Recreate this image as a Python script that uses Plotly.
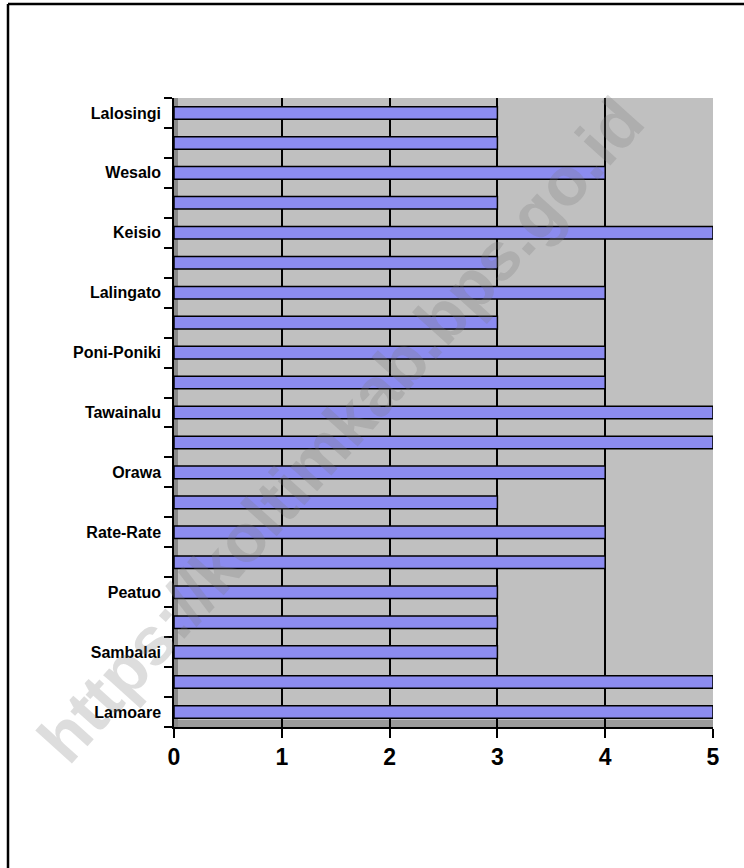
import plotly.graph_objects as go

# Categories from bottom to top; unlabeled rows have an empty label
labels = ["Lamoare", "", "Sambalai", "", "Peatuo", "", "Rate-Rate", "", "Orawa", "",
          "Tawainalu", "", "Poni-Poniki", "", "Lalingato", "", "Keisio", "", "Wesalo", "",
          "Lalosingi"]
values = [5, 5, 3, 3, 3, 4, 4, 3, 4, 5, 5, 4, 4, 3, 4, 3, 5, 3, 4, 3, 3]
x_ticks = [0, 1, 2, 3, 4, 5]

positions = list(range(len(values)))
shown_pos = [p for p, l in zip(positions, labels) if l]
shown_lab = [l for l in labels if l]

fig = go.Figure()
fig.add_trace(go.Bar(
    x=values, y=positions, orientation="h", width=0.42,
    marker=dict(color="#8c8cf0", line=dict(color="black", width=1.5)),
    hoverinfo="x+y", showlegend=False,
))

W, H = 744, 868
ml, mr, mt, mb = 174, 31, 98, 141
pw, ph = W - ml - mr, H - mt - mb

def px(xp):
    return (xp - ml) / pw

def py(yp):
    return 1 - (yp - mt) / ph

shapes = [
    # outer frame (left and top visible)
    dict(type="line", xref="paper", yref="paper", x0=px(8), x1=px(8), y0=py(900), y1=py(4),
         line=dict(color="black", width=2.5)),
    dict(type="line", xref="paper", yref="paper", x0=px(8), x1=px(760), y0=py(4), y1=py(4),
         line=dict(color="black", width=2.5)),
    # 3D floor and side wall
    dict(type="rect", xref="paper", yref="paper", x0=0, x1=1, y0=0, y1=py(720),
         fillcolor="#9a9a9a", line=dict(width=0), layer="below"),
    dict(type="rect", xref="paper", yref="paper", x0=0, x1=px(178), y0=0, y1=1,
         fillcolor="#8a8a8a", line=dict(width=0), layer="below"),
]

fig.update_layout(
    width=W, height=H,
    margin=dict(l=ml, r=mr, t=mt, b=mb),
    paper_bgcolor="white", plot_bgcolor="#c0c0c0",
    font=dict(family="Arial, Liberation Sans, sans-serif", color="black"),
    bargap=0.58,
    shapes=shapes,
    xaxis=dict(
        range=[0, 5.0], tickvals=x_ticks, ticktext=[str(t) for t in x_ticks],
        ticks="outside", ticklen=9, tickwidth=1.5, tickcolor="black",
        tickfont=dict(size=23, weight="bold"),
        showgrid=True, gridcolor="black", gridwidth=1.5,
        showline=True, linecolor="black", linewidth=1.5,
        zeroline=False, fixedrange=True,
    ),
    yaxis=dict(
        range=[-0.5, len(values) - 0.5], tickvals=shown_pos, ticktext=shown_lab,
        ticks="outside", ticklen=8, tickcolor="rgba(0,0,0,0)",
        tickfont=dict(size=16, weight="bold"),
        minor=dict(tick0=-0.5, dtick=1, ticks="outside", ticklen=8, tickwidth=1.5,
                   tickcolor="black", showgrid=False),
        showgrid=False, showline=True, linecolor="black", linewidth=1.5,
        zeroline=False, fixedrange=True,
    ),
    annotations=[dict(
        text="https://koltimkab.bps.go.id", xref="paper", yref="paper",
        x=px(340), y=py(430), xanchor="center", yanchor="middle",
        showarrow=False, textangle=-48,
        font=dict(size=68, color="rgba(120,120,120,0.25)", weight="bold",
                  family="Arial, Liberation Sans, sans-serif"),
    )],
)

fig.write_html("out.html", config={"displayModeBar": False},
               post_script="document.body.style.margin='0px';")
